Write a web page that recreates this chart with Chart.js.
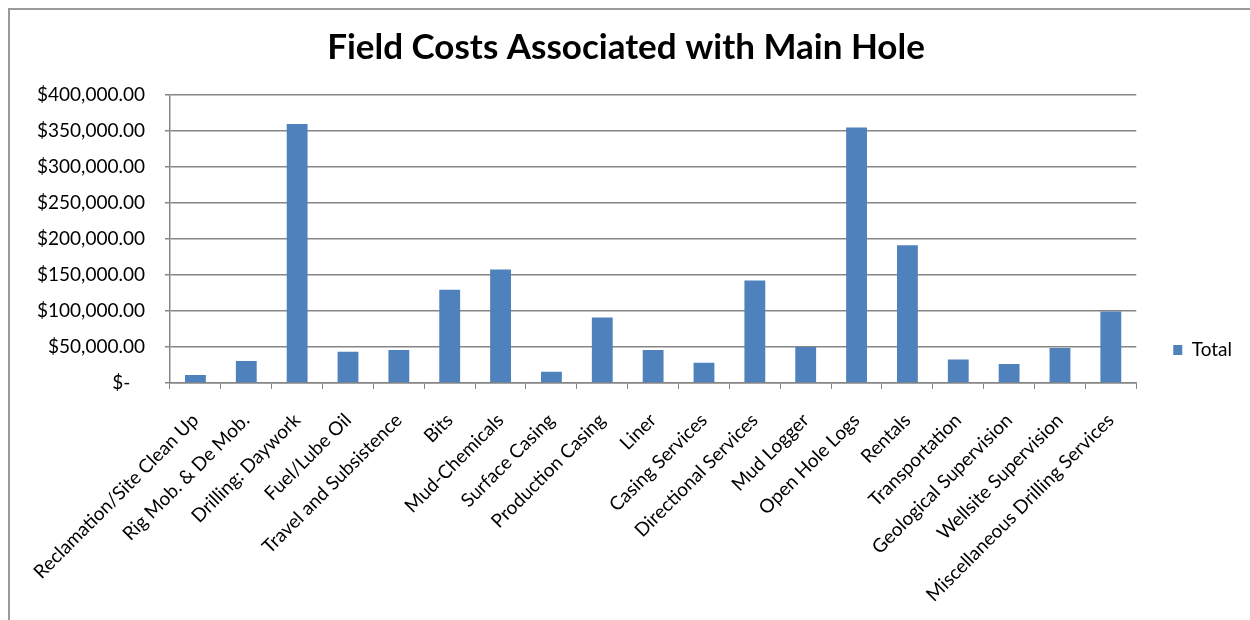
<!DOCTYPE html>
<html>
<head>
<meta charset="utf-8">
<script src="https://cdn.jsdelivr.net/npm/chart.js@4.4.1/dist/chart.umd.min.js"></script>
<style>
  html, body { margin: 0; padding: 0; background: #fff; overflow: hidden; }
  #wrap { position: relative; width: 1250px; height: 620px; }
  #frame {
    position: absolute; left: 8px; top: 8px; width: 1400px; height: 800px;
    border-left: 2px solid #9a9a9a; border-top: 2px solid #9a9a9a;
    pointer-events: none;
  }
  canvas { position: absolute; left: 0; top: 0; }
</style>
</head>
<body>
<div id="wrap">
  <canvas id="chart" width="1250" height="620"></canvas>
  <div id="frame"></div>
</div>
<script>
// Cost categories along the x axis
const categories = [
  "Reclamation/Site Clean Up",
  "Rig Mob. & De Mob.",
  "Drilling: Daywork",
  "Fuel/Lube Oil",
  "Travel and Subsistence",
  "Bits",
  "Mud-Chemicals",
  "Surface Casing",
  "Production Casing",
  "Liner",
  "Casing Services",
  "Directional Services",
  "Mud Logger",
  "Open Hole Logs",
  "Rentals",
  "Transportation",
  "Geological Supervision",
  "Wellsite Supervision",
  "Miscellaneous Drilling Services"
];

// Total cost per category (USD)
const totals = [
  11100, 30500, 359700, 43400, 45800, 129400, 157600, 15700, 91000, 45800,
  28200, 142300, 50000, 355000, 191400, 32800, 26300, 48500, 99300
];

// Value axis ticks
const yTicks = [0, 50000, 100000, 150000, 200000, 250000, 300000, 350000, 400000];

const seriesName = "Total";
const chartTitle = "Field Costs Associated with Main Hole";

const FONT = "Lato, 'Open Sans', sans-serif";
const AXIS_GRAY = "#868686";

function money(v) {
  if (v === 0) return "$-   ";
  return "$" + v.toLocaleString("en-US", { minimumFractionDigits: 2, maximumFractionDigits: 2 });
}

new Chart(document.getElementById("chart"), {
  type: "bar",
  data: {
    labels: categories,
    datasets: [{
      label: seriesName,
      data: totals,
      backgroundColor: "#4f81bd",
      borderWidth: 0,
      barPercentage: 0.41,
      categoryPercentage: 1.0
    }]
  },
  options: {
    responsive: false,
    animation: false,
    devicePixelRatio: 1,
    layout: { padding: { left: 10, right: 8, top: 0, bottom: 0 } },
    plugins: {
      title: {
        display: true,
        text: chartTitle,
        color: "#000",
        font: { family: FONT, size: 35, weight: "bold" },
        padding: { top: 27, bottom: 26 }
      },
      legend: {
        display: true,
        position: "right",
        // empty legend heading used as a spacer so the key sits lower
        title: { display: true, text: "", font: { size: 10 }, padding: { top: 0, bottom: 68 } },
        labels: {
          color: "#000",
          font: { family: FONT, size: 19 },
          boxWidth: 9,
          boxHeight: 10,
          padding: 37
        }
      },
      tooltip: { enabled: false }
    },
    scales: {
      x: {
        grid: {
          display: true,
          drawOnChartArea: false,
          offset: true,
          tickLength: 6,
          color: AXIS_GRAY
        },
        border: { display: true, color: AXIS_GRAY, width: 1.5 },
        ticks: {
          color: "#000",
          font: { family: FONT, size: 19 },
          minRotation: 45,
          maxRotation: 45,
          autoSkip: false,
          padding: 20
        },
        afterFit(scale) { scale.height = 237; }
      },
      y: {
        min: 0,
        max: 400000,
        afterBuildTicks(scale) { scale.ticks = yTicks.map(v => ({ value: v })); },
        grid: {
          color: AXIS_GRAY,
          lineWidth: 1.5,
          tickLength: 5
        },
        border: { display: true, color: AXIS_GRAY, width: 1.5 },
        ticks: {
          color: "#000",
          font: { family: FONT, size: 19 },
          padding: 20,
          callback: (v) => money(v)
        },
        afterFit(scale) { scale.width = 160; }
      }
    }
  }
});
</script>
</body>
</html>
